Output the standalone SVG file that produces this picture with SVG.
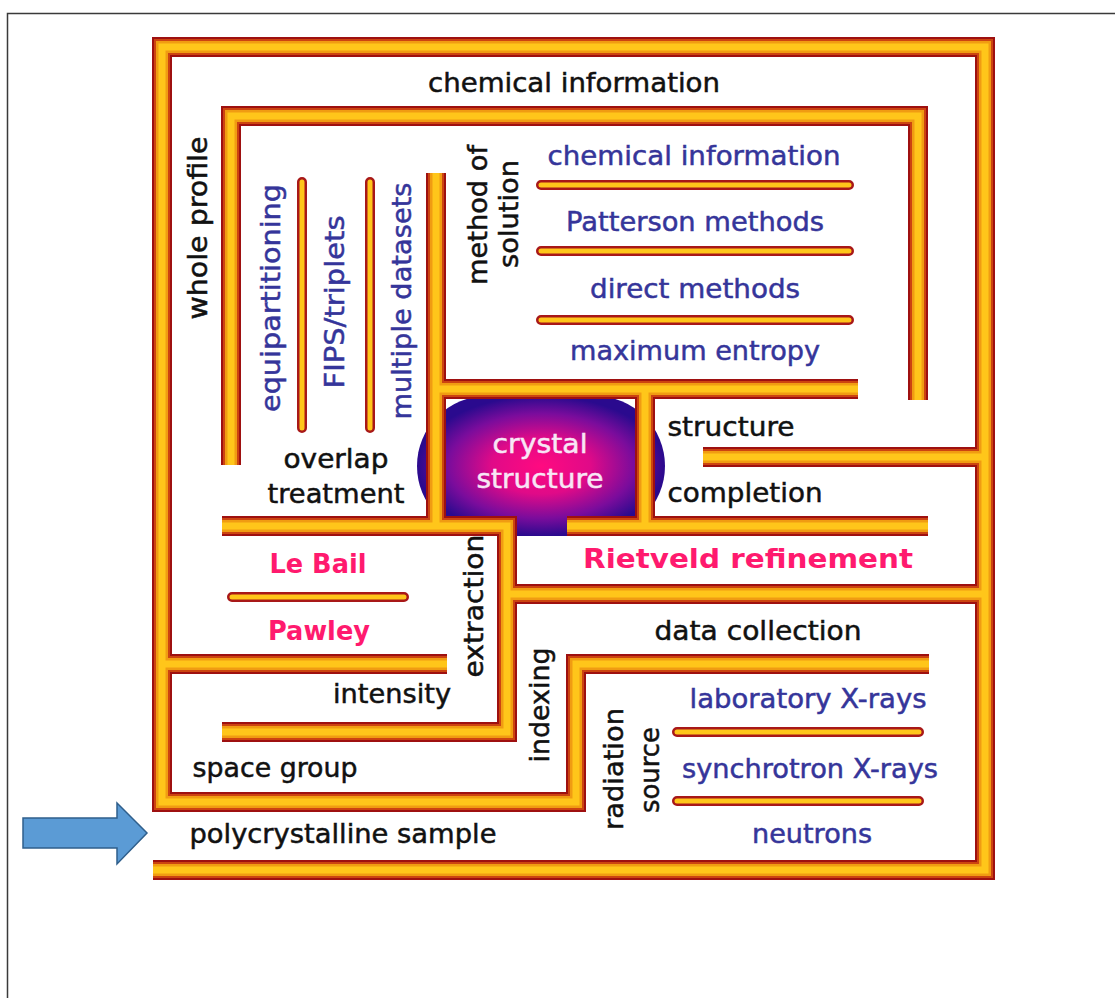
<svg xmlns="http://www.w3.org/2000/svg" xmlns:xlink="http://www.w3.org/1999/xlink" width="1115" height="998" viewBox="0 0 1115 998">
  <style>
    .w1{fill:none;stroke:#9e1010;stroke-width:20;stroke-linejoin:miter;stroke-linecap:butt}
    .w2{fill:none;stroke:#cc4410;stroke-width:16;stroke-linejoin:miter;stroke-linecap:butt}
    .w3{fill:none;stroke:#f09c12;stroke-width:12;stroke-linejoin:miter;stroke-linecap:butt}
    .w4{fill:none;stroke:#ffc61a;stroke-width:7;stroke-linejoin:miter;stroke-linecap:butt}
    .b1{fill:none;stroke:#a81818;stroke-width:10;stroke-linecap:round}
    .b2{fill:none;stroke:#ffc61a;stroke-width:5;stroke-linecap:round}
    text{font-family:"DejaVu Sans","Liberation Sans",sans-serif;font-size:27px;text-anchor:middle;stroke-width:0.5}
    .k{fill:#111111;stroke:#111111}
    .u{fill:#35359a;stroke:#35359a}
    .p{fill:#ff1a6e;font-weight:bold;stroke:none}
    .c{fill:#f8e6f6;stroke:#f8e6f6}
  </style>
  <defs>
    <radialGradient id="cg" cx="50%" cy="50%" r="50%">
      <stop offset="0" stop-color="#ff0a80"/>
      <stop offset="0.4" stop-color="#e00a88"/>
      <stop offset="0.75" stop-color="#7a0c9c"/>
      <stop offset="1" stop-color="#2a0a8e"/>
    </radialGradient>
    <path id="walls" d="M929,664 H576 V802 H162 V47 H985 V870 H153
      M231,465 V116 H918 V400
      M162,664 H447
      M222,526 H507 V732 H222
      M507,594 H985
      M436,173 V526
      M436,389 H858
      M645,389 V526
      M567,526 H928
      M703,457 H985"/>
    <path id="bars" d="M302,182 V428 M370,182 V428 M541,185 H849 M541,251 H849 M541,320 H849 M232,597 H404 M677,732 H919 M677,801 H919"/>
  </defs>

  <path id="frame" d="M7.5,998 V13.5 H1115" fill="none" stroke="#3a3a3a" stroke-width="1.5"/>

  <g id="crystal-structure">
    <rect x="417" y="396" width="248" height="140" rx="70" ry="70" fill="url(#cg)"/>
  </g>

  <g id="connectors">
    <use xlink:href="#walls" class="w1"/>
    <use xlink:href="#walls" class="w2"/>
    <use xlink:href="#walls" class="w3"/>
    <use xlink:href="#walls" class="w4"/>
    <use xlink:href="#bars" class="b1"/>
    <use xlink:href="#bars" class="b2"/>
  </g>

  <g id="crystal-label">
    <text class="c" x="540" y="453" textLength="95" lengthAdjust="spacingAndGlyphs">crystal</text>
    <text class="c" x="540" y="488" textLength="127" lengthAdjust="spacingAndGlyphs">structure</text>
  </g>

  <g id="arrow">
    <polygon points="23,818 117,818 117,803 147,833 117,864 117,848 23,848" fill="#5b9bd5" stroke="#2f5f8c" stroke-width="1.5"/>
  </g>

  <g id="labels-black">
    <text class="k" x="574" y="92" textLength="292" lengthAdjust="spacingAndGlyphs">chemical information</text>
    <text class="k" x="207" y="228" transform="rotate(-90 207 228)" textLength="183" lengthAdjust="spacingAndGlyphs">whole profile</text>
    <text class="k" x="336" y="468" textLength="105" lengthAdjust="spacingAndGlyphs">overlap</text>
    <text class="k" x="336" y="503" textLength="137" lengthAdjust="spacingAndGlyphs">treatment</text>
    <text class="k" x="487" y="215" transform="rotate(-90 487 215)" textLength="140" lengthAdjust="spacingAndGlyphs">method of</text>
    <text class="k" x="518" y="214" transform="rotate(-90 518 214)" textLength="108" lengthAdjust="spacingAndGlyphs">solution</text>
    <text class="k" x="731" y="436" textLength="127" lengthAdjust="spacingAndGlyphs">structure</text>
    <text class="k" x="745" y="502" textLength="155" lengthAdjust="spacingAndGlyphs">completion</text>
    <text class="k" x="483" y="606" transform="rotate(-90 483 606)" textLength="143" lengthAdjust="spacingAndGlyphs">extraction</text>
    <text class="k" x="392" y="703" textLength="118" lengthAdjust="spacingAndGlyphs">intensity</text>
    <text class="k" x="275" y="777" textLength="165" lengthAdjust="spacingAndGlyphs">space group</text>
    <text class="k" x="343" y="843" textLength="307" lengthAdjust="spacingAndGlyphs">polycrystalline sample</text>
    <text class="k" x="549" y="705" transform="rotate(-90 549 705)" textLength="115" lengthAdjust="spacingAndGlyphs">indexing</text>
    <text class="k" x="758" y="640" textLength="207" lengthAdjust="spacingAndGlyphs">data collection</text>
    <text class="k" x="623" y="769" transform="rotate(-90 623 769)" textLength="122" lengthAdjust="spacingAndGlyphs">radiation</text>
    <text class="k" x="659" y="770" transform="rotate(-90 659 770)" textLength="86" lengthAdjust="spacingAndGlyphs">source</text>
  </g>

  <g id="labels-blue">
    <text class="u" x="280" y="298" transform="rotate(-90 280 298)" textLength="228" lengthAdjust="spacingAndGlyphs">equipartitioning</text>
    <text class="u" x="344" y="302" transform="rotate(-90 344 302)" textLength="173" lengthAdjust="spacingAndGlyphs">FIPS/triplets</text>
    <text class="u" x="411" y="301" transform="rotate(-90 411 301)" textLength="237" lengthAdjust="spacingAndGlyphs">multiple datasets</text>
    <text class="u" x="694" y="165" textLength="293" lengthAdjust="spacingAndGlyphs">chemical information</text>
    <text class="u" x="695" y="231" textLength="258" lengthAdjust="spacingAndGlyphs">Patterson methods</text>
    <text class="u" x="695" y="298" textLength="210" lengthAdjust="spacingAndGlyphs">direct methods</text>
    <text class="u" x="695" y="360" textLength="250" lengthAdjust="spacingAndGlyphs">maximum entropy</text>
    <text class="u" x="808" y="708" textLength="237" lengthAdjust="spacingAndGlyphs">laboratory X-rays</text>
    <text class="u" x="810" y="778" textLength="256" lengthAdjust="spacingAndGlyphs">synchrotron X-rays</text>
    <text class="u" x="812" y="843" textLength="120" lengthAdjust="spacingAndGlyphs">neutrons</text>
  </g>

  <g id="labels-pink">
    <text class="p" x="318" y="573" textLength="97" lengthAdjust="spacingAndGlyphs">Le Bail</text>
    <text class="p" x="319" y="640" textLength="102" lengthAdjust="spacingAndGlyphs">Pawley</text>
    <text class="p" x="748" y="568" textLength="330" lengthAdjust="spacingAndGlyphs">Rietveld refinement</text>
  </g>
</svg>
